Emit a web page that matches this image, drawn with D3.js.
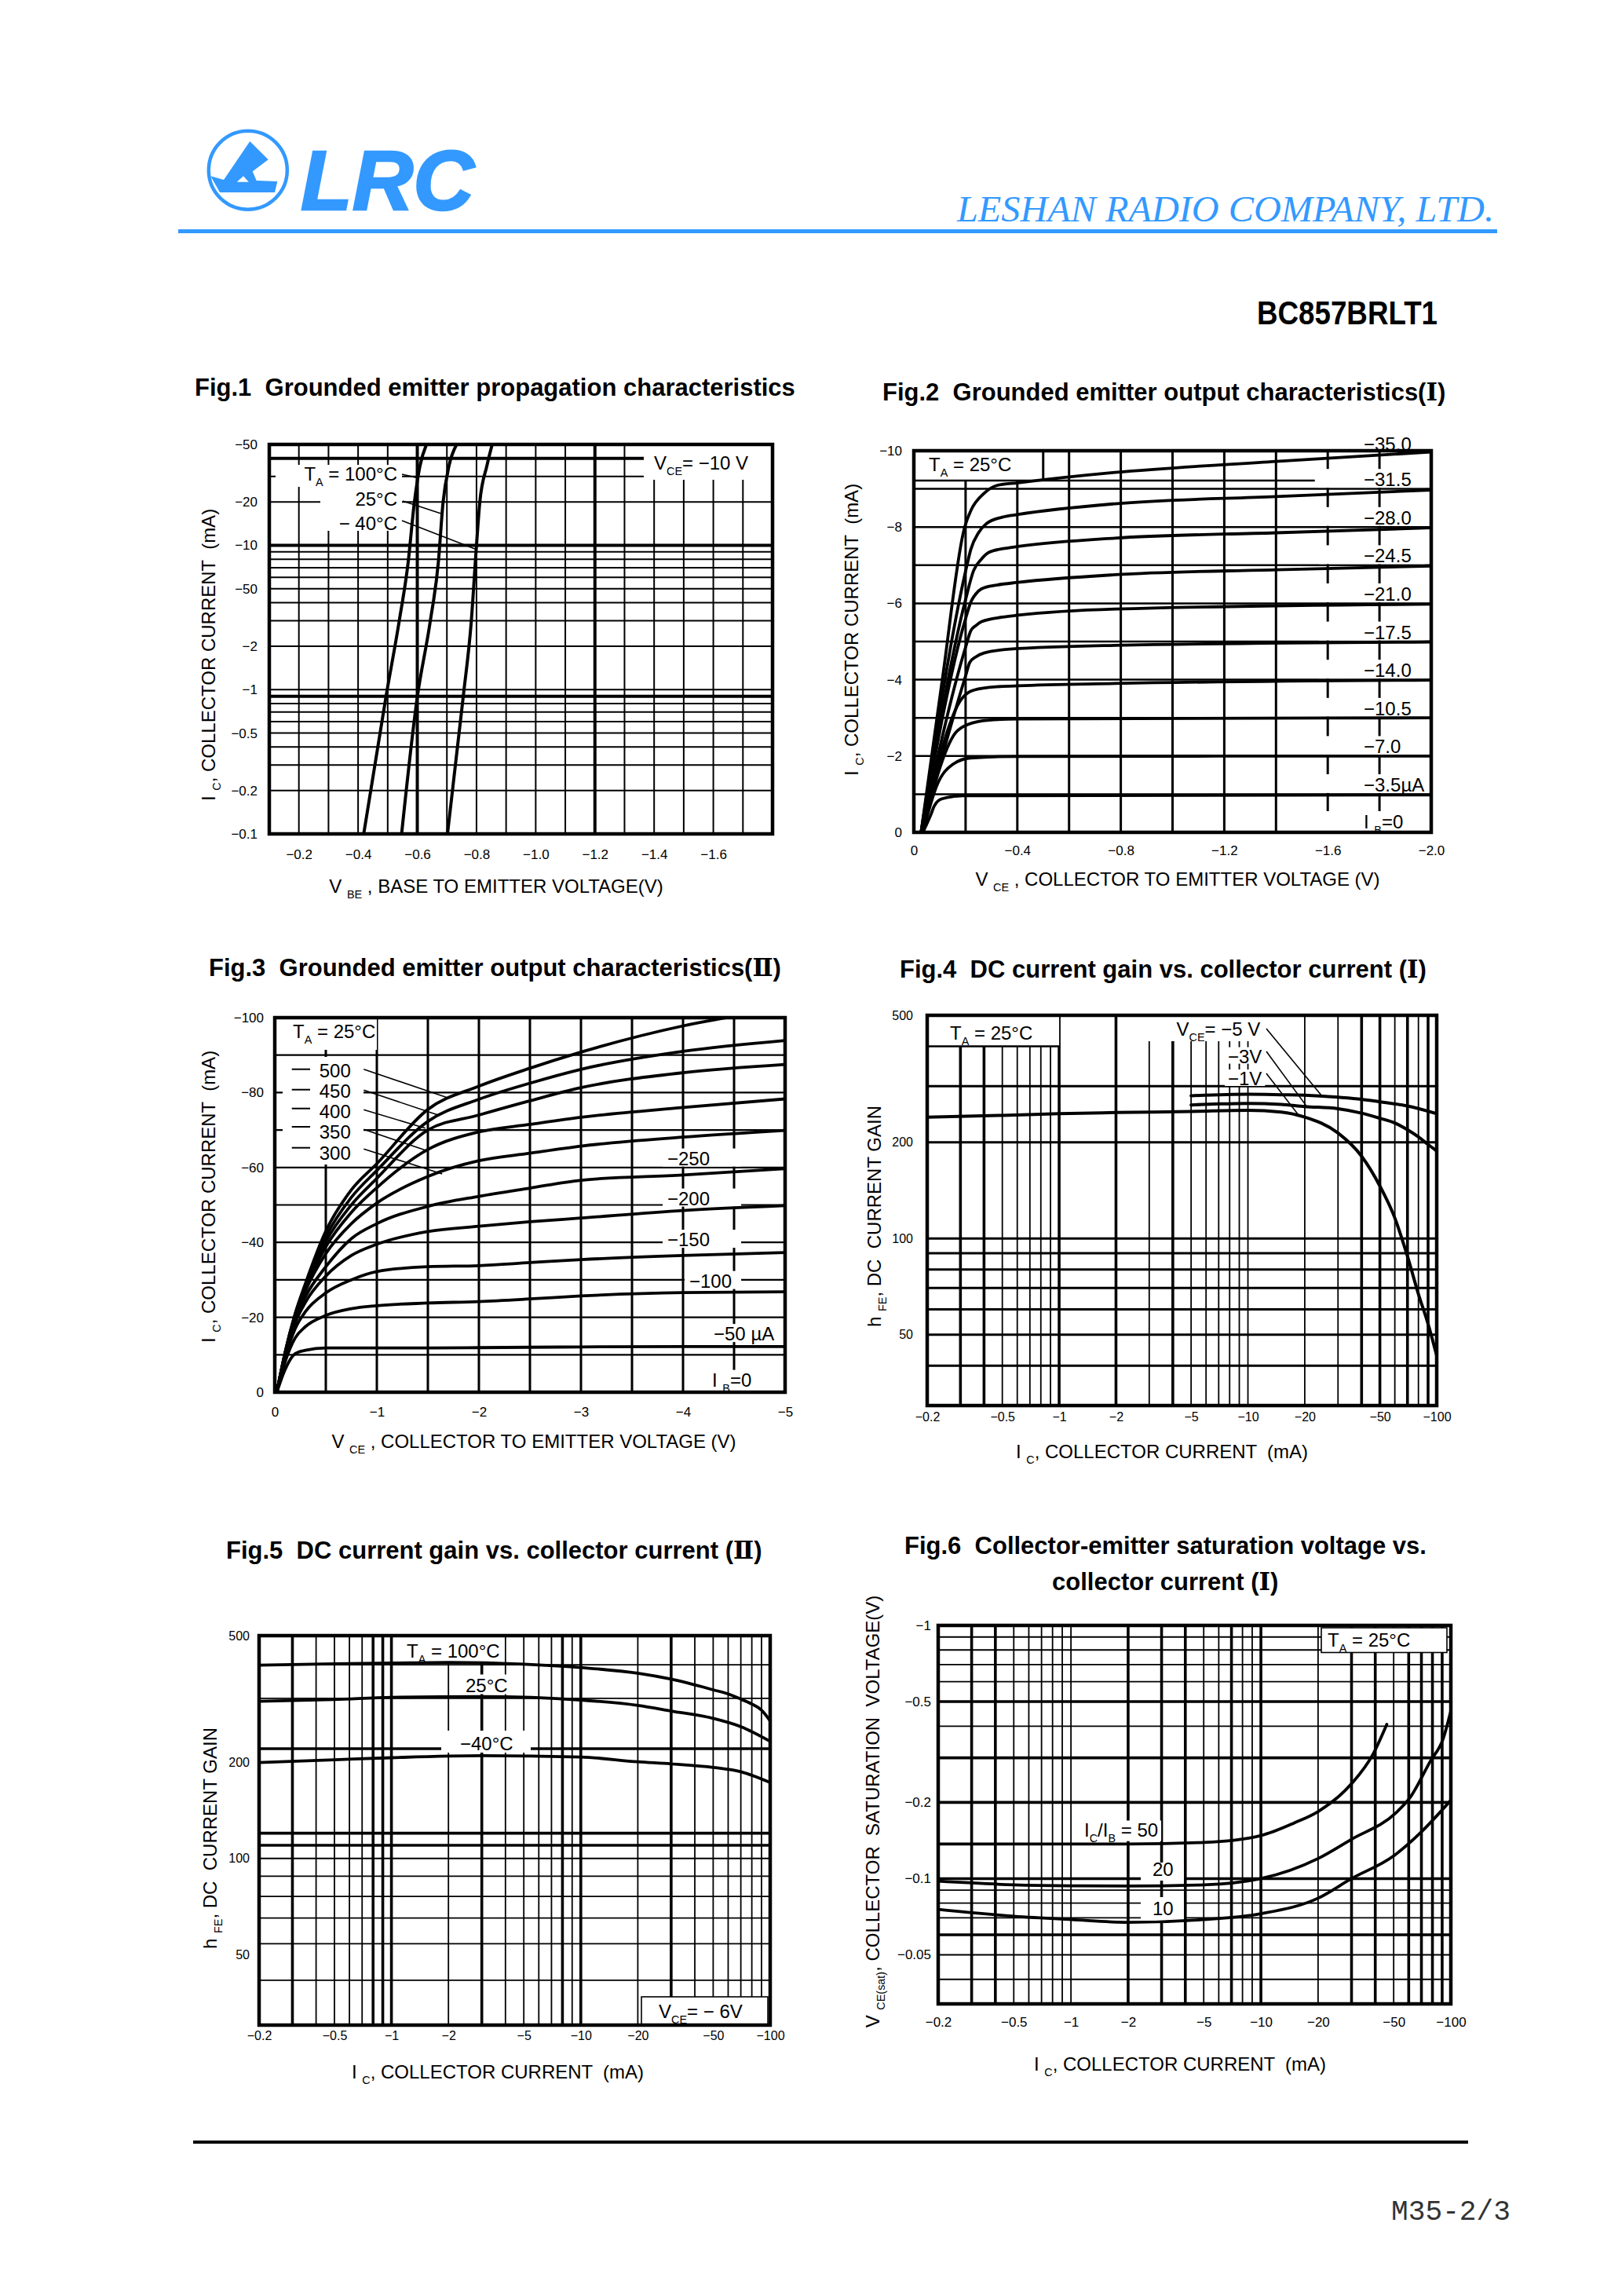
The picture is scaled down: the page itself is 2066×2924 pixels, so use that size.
<!DOCTYPE html>
<html>
<head>
<meta charset="utf-8">
<title>BC857BRLT1</title>
<script src="https://cdn.jsdelivr.net/npm/d3@7/dist/d3.min.js"></script>
<style>
  html, body { margin:0; padding:0; background:#fff; }
  svg { display:block; }
  text { white-space: pre; }
</style>
</head>
<body>
<svg id="page" width="2066" height="2924" viewBox="0 0 2066 2924"></svg>
<script>
// ======================= DATA =======================
// Fig.1  IC (mA, magnitude) vs VBE (V, magnitude)   [VBE, IC]
const fig1Temps = ["100°C", "25°C", "− 40°C"];
const fig1T100 = [[0.419,0.1],[0.494,0.888],[0.538,2.91],[0.569,7.59],[0.590,19.8],[0.609,35.5],[0.631,50]];
const fig1T25  = [[0.547,0.1],[0.600,0.888],[0.643,2.91],[0.671,7.59],[0.687,19.8],[0.707,35.5],[0.733,50]];
const fig1Tm40 = [[0.702,0.1],[0.755,0.888],[0.782,2.91],[0.799,9.36],[0.811,19.8],[0.835,35.5],[0.853,50]];
const fig1LeaderEnds = [[0.596,29.5],[0.680,16.6],[0.7995,9.36]];
const fig1XTicks = [0.2,0.4,0.6,0.8,1.0,1.2,1.4,1.6];
const fig1XTickLabels = ["−0.2","−0.4","−0.6","−0.8","−1.0","−1.2","−1.4","−1.6"];
const fig1YTicks = [50,20,10,5,2,1,0.5,0.2,0.1];
const fig1YTickLabels = ["−50","−20","−10","−50","−2","−1","−0.5","−0.2","−0.1"];

// Fig.2  IC (mA) vs VCE (V), IB steps   [VCE, IC]
const fig2Ib35   = [[0.028,0],[0.11,4.0],[0.195,7.96],[0.221,8.44],[0.271,8.88],[0.321,9.09],[0.403,9.16],[0.777,9.43],[1.4,9.72],[2.0,9.97]];
const fig2Ib31_5 = [[0.028,0],[0.205,6.99],[0.220,7.41],[0.25,7.85],[0.281,8.09],[0.342,8.26],[0.403,8.33],[0.777,8.61],[1.4,8.8],[2.0,8.97]];
const fig2Ib28   = [[0.028,0],[0.2,6.1],[0.231,6.86],[0.26,7.15],[0.291,7.34],[0.352,7.44],[0.403,7.49],[0.777,7.71],[1.4,7.85],[2.0,7.98]];
const fig2Ib24_5 = [[0.028,0],[0.2,5.6],[0.22,6.03],[0.24,6.25],[0.261,6.38],[0.321,6.48],[0.403,6.55],[0.777,6.75],[1.4,6.88],[2.0,6.98]];
const fig2Ib21   = [[0.028,0],[0.2,4.85],[0.22,5.28],[0.24,5.42],[0.261,5.52],[0.342,5.64],[0.403,5.69],[0.777,5.85],[2.0,5.98]];
const fig2Ib17_5 = [[0.028,0],[0.2,4.1],[0.216,4.45],[0.24,4.6],[0.271,4.7],[0.372,4.8],[0.777,4.9],[2.0,4.99]];
const fig2Ib14   = [[0.03,0],[0.185,3.5],[0.22,3.7],[0.291,3.8],[0.403,3.84],[0.777,3.9],[2.0,3.99]];
const fig2Ib10_5 = [[0.03,0],[0.16,2.6],[0.21,2.83],[0.291,2.94],[0.403,2.97],[2.0,3.0]];
const fig2Ib7    = [[0.035,0],[0.089,1.23],[0.15,1.78],[0.22,1.95],[0.4,1.99],[2.0,2.0]];
const fig2Ib3_5  = [[0.035,0],[0.065,0.45],[0.079,0.69],[0.109,0.88],[0.19,0.96],[2.0,0.98]];
const fig2IbLabels = ["−35.0","−31.5","−28.0","−24.5","−21.0","−17.5","−14.0","−10.5","−7.0","−3.5µA"];
const fig2LabelLevels = [10,9,8,7,6,5,4,3,2,1];
const fig2XTicks = [0,0.4,0.8,1.2,1.6,2.0];
const fig2XTickLabels = ["0","−0.4","−0.8","−1.2","−1.6","−2.0"];
const fig2YTicks = [0,2,4,6,8,10];
const fig2YTickLabels = ["0","−2","−4","−6","−8","−10"];

// Fig.3  IC (mA) vs VCE (V), IB = 50..500 µA
const fig3V      = [0.02,0.1,0.2,0.3,0.5,0.75,1.0,1.5,2.0,2.5,3.0,4.0,5.0];
const fig3Ib50   = [0,6,10.3,11.2,11.8,11.8,11.8,11.8,11.9,12.0,12.1,12.2,12.2];
const fig3Ib100  = [0,8,14.5,17.5,20.5,22.3,23.1,23.8,24.2,24.9,25.7,26.6,26.8];
const fig3Ib150  = [0,9,17,21.5,26.5,30,32.2,33.5,33.8,34.6,35.4,36.5,37.3];
const fig3Ib200  = [0,9.5,18.5,24,31,36.5,39.5,42.9,44.3,45.5,46.5,48.5,49.8];
const fig3Ib250  = [0,9.8,19.5,25.5,33.5,41,45,49.6,52.3,54.5,56.6,58,59.7];
const fig3Ib300  = [0,10,20,27,37,45,50.5,57.6,61.8,63.8,65.7,68.1,69.9];
const fig3Ib350  = [0,10.2,20.2,27.5,38.8,48,54.6,64.8,69.5,71.5,73.4,76,78.3];
const fig3Ib400  = [0,10.3,20.5,28,40.2,50,57.1,70.0,74,77.8,81.3,85.3,87.5];
const fig3Ib450  = [0,10.4,20.8,28.5,41.5,52,59.2,72.3,78.2,82.5,86.2,91,93.9];
const fig3Ib500  = [0,10.5,21,29,43,54,61,75.5,81.7,86.5,90.8,97.8,102.5];
const fig3Legend = ["500","450","400","350","300"];
const fig3LeaderEnds = [[1.705,78.5],[1.60,74.0],[1.475,70.5],[1.475,64.6],[1.64,58.3]];
const fig3XTicks = [0,1,2,3,4,5];
const fig3XTickLabels = ["0","−1","−2","−3","−4","−5"];
const fig3YTicks = [0,20,40,60,80,100];
const fig3YTickLabels = ["0","−20","−40","−60","−80","−100"];

// Fig.4  hFE vs IC (mA), TA = 25°C   [IC, hFE]
const fig4Vce = ["−5 V","−3V","−1V"];
const fig4VceM1 = [[0.2,240],[0.5,243],[1,246],[2,248],[5,250],[10,252],[15,249],[20,240],[30,214],[40,181],[50,146],[60,116],[70,88],[80,67],[90,54],[100,43]];
const fig4VceM3 = [[5,262],[7,264],[10,265],[15,263],[20,259],[30,255],[40,247],[50,238],[60,230],[70,219],[80,208],[90,197],[100,188]];
const fig4VceM5 = [[5,280],[10,283],[15,282],[20,281],[30,277],[40,273],[50,268],[70,260],[100,246]];
const fig4LeaderEnds = [[24.5,280.7],[20.6,258],[18.7,242]];
const logXTicks = [0.2,0.5,1,2,5,10,20,50,100];
const logXTickLabels = ["−0.2","−0.5","−1","−2","−5","−10","−20","−50","−100"];
const hfeYTicks = [500,200,100,50];
const hfeYTickLabels = ["500","200","100","50"];

// Fig.5  hFE vs IC (mA), VCE = -6 V
const fig5Temps = ["T_A = 100°C","25°C","−40°C"];
const fig5T100 = [[0.2,404],[0.5,408],[1,410],[2,412],[5,407],[10,397],[20,381],[30,365],[50,338],[60,328],[70,316],[80,305],[90,292],[100,270]];
const fig5T25  = [[0.2,311],[0.5,315],[1,320],[3,322],[10,314],[20,302],[30,290],[50,275],[70,259],[100,233]];
const fig5Tm40 = [[0.2,200],[0.5,204],[1,207],[3,210],[10,208],[20,201],[30,198],[50,193],[70,187],[100,173]];
const fig5HGrid = [41.5,54,65,76,88,100,110,120,221,318,405];

// Fig.6  VCE(sat) (V) vs IC (mA)
const fig6Ratios = ["50","20","10"];
const fig6R50 = [[0.2,0.137],[0.5,0.137],[1,0.137],[2,0.137],[5,0.139],[10,0.148],[15,0.166],[20,0.184],[30,0.237],[39,0.311],[46,0.407]];
const fig6R20 = [[0.2,0.0977],[0.5,0.0945],[1,0.0937],[2,0.0935],[5,0.0945],[10,0.100],[20,0.120],[30,0.143],[51,0.181],[61,0.209],[78,0.291],[91,0.356],[100,0.459]];
const fig6R10 = [[0.2,0.0756],[0.5,0.071],[1,0.0689],[2,0.0672],[5,0.0689],[10,0.0727],[20,0.0837],[30,0.100],[50,0.123],[70,0.153],[100,0.204]];
const fig6YTicks = [1,0.5,0.2,0.1,0.05];
const fig6YTickLabels = ["−1","−0.5","−0.2","−0.1","−0.05"];

// shared log-grid values
const logGridX = [0.3,0.4,0.5,0.6,0.7,0.8,0.9,1,2,3,4,5,6,7,8,9,10,20,30,40,50,60,70,80,90];

// ======================= DRAWING =======================
const BLUE = "#3399ff";
const FONT = '"Liberation Sans", Arial, Helvetica, sans-serif';
const svg = d3.select("#page");
svg.append("rect").attr("width", 2066).attr("height", 2924).attr("fill", "#fff");
const defs = svg.append("defs");

function rich(parent, x, y, parts, fs, o) {
  o = o || {};
  const t = parent.append("text").attr("x", x).attr("y", y)
    .attr("font-family", o.family || FONT).attr("font-size", fs)
    .attr("fill", o.fill || "#000");
  if (o.anchor) t.attr("text-anchor", o.anchor);
  if (o.weight) t.attr("font-weight", o.weight);
  if (o.fstyle) t.attr("font-style", o.fstyle);
  if (o.transform) t.attr("transform", o.transform);
  let inSub = false;
  parts.forEach(p => {
    const s = typeof p === "string" ? p : p[0];
    const sub = typeof p !== "string" && p[1] === "s";
    const ts = t.append("tspan").text(s);
    if (sub) {
      ts.attr("font-size", fs * 0.6);
      if (!inSub) ts.attr("dy", fs * 0.3);
    } else if (inSub) {
      ts.attr("dy", -fs * 0.3);
    }
    if (typeof p !== "string" && p[2]) ts.attr("font-family", p[2]);
    inSub = sub;
  });
  return t;
}

function near(v, arr) { return (arr || []).some(a => Math.abs(a - v) < 1e-9 * Math.max(1, Math.abs(a))); }

function panel(c) {
  const g = svg.append("g");
  const L = {};
  ["grid","mask","extra","curves","frame","text"].forEach(k => L[k] = g.append("g"));
  const x = c.x, y = c.y;
  const [x0, x1] = x.range(), [y0, y1] = y.range();
  L.grid.selectAll(null).data(c.xGrid).join("line")
    .attr("x1", d => x(d)).attr("x2", d => x(d)).attr("y1", y1).attr("y2", y0)
    .attr("stroke", "#000").attr("stroke-width", d => near(d, c.xThick) ? c.thickW : c.xW);
  L.grid.selectAll(null).data(c.yGrid).join("line")
    .attr("x1", x0).attr("x2", x1).attr("y1", d => y(d)).attr("y2", d => y(d))
    .attr("stroke", "#000").attr("stroke-width", d => near(d, c.yThick) ? c.thickW : c.yW);
  L.frame.append("rect").attr("x", x0).attr("y", y1).attr("width", x1 - x0).attr("height", y0 - y1)
    .attr("fill", "none").attr("stroke", "#000").attr("stroke-width", 4.5);
  const id = "clip" + c.id;
  defs.append("clipPath").attr("id", id).append("rect")
    .attr("x", x0).attr("y", y1).attr("width", x1 - x0).attr("height", y0 - y1);
  L.curves.attr("clip-path", "url(#" + id + ")");
  const ax = d3.axisBottom(x).tickValues(c.xTicks).tickFormat((d, i) => c.xTickLabels[i]).tickSize(0).tickPadding(c.xPad);
  const gx = L.text.append("g").attr("transform", "translate(0," + y0 + ")").call(ax);
  gx.select(".domain").remove();
  gx.attr("font-family", FONT).attr("font-size", c.tickFs);
  gx.selectAll("text").attr("fill", "#000");
  const ay = d3.axisLeft(y).tickValues(c.yTicks).tickFormat((d, i) => c.yTickLabels[i]).tickSize(0).tickPadding(c.yPad);
  const gy = L.text.append("g").attr("transform", "translate(" + x0 + ",0)").call(ay);
  gy.select(".domain").remove();
  gy.attr("font-family", FONT).attr("font-size", c.tickFs);
  gy.selectAll("text").attr("fill", "#000");
  L.x = x; L.y = y;
  return L;
}

function curve(L, data, w) {
  L.curves.append("path").datum(data)
    .attr("d", d3.line().x(d => L.x(d[0])).y(d => L.y(d[1])).curve(d3.curveMonotoneX))
    .attr("fill", "none").attr("stroke", "#000").attr("stroke-width", w)
    .attr("stroke-linejoin", "round").attr("stroke-linecap", "round");
}
function leader(L, sx, sy, end) {
  L.extra.append("line").attr("x1", sx).attr("y1", sy).attr("x2", L.x(end[0])).attr("y2", L.y(end[1]))
    .attr("stroke", "#000").attr("stroke-width", 1.6);
}
function maskRect(L, x, y, w, h) {
  L.mask.append("rect").attr("x", x).attr("y", y).attr("width", w).attr("height", h).attr("fill", "#fff");
}
function maskText(L, t, pl, pt, pr, pb) {
  const b = t.node().getBBox();
  maskRect(L, b.x - pl, b.y - pt, b.width + pl + pr, b.height + pt + pb);
}
function title(x, y, parts) { return rich(svg, x, y, parts, 31, { weight: "bold" }); }
function xTitle(cx, y, parts) { return rich(svg, cx, y, parts, 24, { anchor: "middle" }); }
function yTitle(cx, cy, parts) {
  return rich(svg, 0, 0, parts, 24, { anchor: "middle", transform: "translate(" + (cx + 8.6) + "," + cy + ") rotate(-90)" });
}
const ROMAN = "DejaVu Serif";

// ---------------- HEADER ----------------
svg.append("circle").attr("cx", 315.8).attr("cy", 216.7).attr("r", 50)
  .attr("fill", "none").attr("stroke", BLUE).attr("stroke-width", 4.5);
svg.append("path")
  .attr("d", "M268.3,224.3 L285,229 L318.3,180 L341.7,203.3 L321.7,218.3 L326.7,230 L353.3,231 L350,245 L280,245 Z M301.7,231.7 L310,224.3 L316.7,231.7 Z")
  .attr("fill", BLUE).attr("fill-rule", "evenodd");
svg.append("text").attr("x", 383).attr("y", 267).attr("font-family", FONT).attr("font-weight", "bold")
  .attr("font-style", "italic").attr("font-size", 107).attr("fill", BLUE).attr("stroke", BLUE).attr("stroke-width", 2.5)
  .attr("textLength", 221).attr("lengthAdjust", "spacingAndGlyphs").text("LRC");
svg.append("text").attr("x", 1219).attr("y", 282).attr("font-family", '"Liberation Serif", "Times New Roman", serif')
  .attr("font-style", "italic").attr("font-size", 47).attr("fill", BLUE)
  .attr("textLength", 684).attr("lengthAdjust", "spacingAndGlyphs").text("LESHAN RADIO COMPANY, LTD.");
svg.append("rect").attr("x", 227).attr("y", 292).attr("width", 1680).attr("height", 5).attr("fill", BLUE);
svg.append("text").attr("x", 1601).attr("y", 413).attr("font-family", FONT).attr("font-weight", "bold")
  .attr("font-size", 42).attr("textLength", 230).attr("lengthAdjust", "spacingAndGlyphs").text("BC857BRLT1");

// ---------------- FIG 1 ----------------
title(248, 504, ["Fig.1  Grounded emitter propagation characteristics"]);
const P1 = panel({
  id: 1,
  x: d3.scaleLinear().domain([0.1, 1.8]).range([343, 984]),
  y: d3.scaleLog().domain([0.1, 50]).range([1062, 566]),
  xGrid: d3.range(2, 18).map(i => i / 10), xThick: [0.6, 1.2],
  yGrid: [0.2,0.3,0.4,0.5,0.6,0.7,0.8,0.9,1,2,3,4,5,6,7,8,9,10,20,30,40], yThick: [0.9, 10, 40],
  xW: 2, yW: 2, thickW: 4,
  xTicks: fig1XTicks, xTickLabels: fig1XTickLabels, yTicks: fig1YTicks, yTickLabels: fig1YTickLabels,
  xPad: 20, yPad: 15, tickFs: 17
});
maskRect(P1, 351, 592, 161, 28);
maskRect(P1, 408, 620, 104, 30);
maskRect(P1, 413, 650, 99, 26);
maskRect(P1, 820, 568, 162, 43);
[fig1T100, fig1T25, fig1Tm40].forEach(s => curve(P1, s, 4));
rich(P1.text, 506, 612, ["T", ["A", "s"], " = " + fig1Temps[0]], 24, { anchor: "end" });
rich(P1.text, 506, 643.6, [fig1Temps[1]], 24, { anchor: "end" });
rich(P1.text, 506, 674.6, [fig1Temps[2]], 24, { anchor: "end" });
rich(P1.text, 833, 597.6, ["V", ["CE", "s"], "= −10 V"], 24);
leader(P1, 512, 604, fig1LeaderEnds[0]);
leader(P1, 513, 638, fig1LeaderEnds[1]);
leader(P1, 512, 663, fig1LeaderEnds[2]);
yTitle(265, 834, ["I ", ["C", "s"], ", COLLECTOR CURRENT  (mA)"]);
xTitle(632, 1136.6, ["V ", ["BE", "s"], " , BASE TO EMITTER VOLTAGE(V)"]);

// ---------------- FIG 2 ----------------
title(1124, 510, ["Fig.2  Grounded emitter output characteristics(", ["Ⅰ", "n", ROMAN], ")"]);
const P2 = panel({
  id: 2,
  x: d3.scaleLinear().domain([0, 2]).range([1164, 1823]),
  y: d3.scaleLinear().domain([0, 10]).range([1060, 574]),
  xGrid: d3.range(1, 10).map(i => i / 5), yGrid: d3.range(1, 10),
  xW: 3, yW: 2.5, thickW: 3,
  xTicks: fig2XTicks, xTickLabels: fig2XTickLabels, yTicks: fig2YTicks, yTickLabels: fig2YTickLabels,
  xPad: 17, yPad: 15, tickFs: 17
});
maskRect(P2, P2.x(0), P2.y(10), P2.x(0.5) - P2.x(0), P2.y(9.22) - P2.y(10));
P2.extra.append("line").attr("x1", P2.x(0)).attr("x2", P2.x(1.55)).attr("y1", P2.y(9.22)).attr("y2", P2.y(9.22))
  .attr("stroke", "#000").attr("stroke-width", 2.5);
P2.extra.append("line").attr("x1", P2.x(0.5)).attr("x2", P2.x(0.5)).attr("y1", P2.y(10)).attr("y2", P2.y(9.22))
  .attr("stroke", "#000").attr("stroke-width", 3);
[fig2Ib35, fig2Ib31_5, fig2Ib28, fig2Ib24_5, fig2Ib21, fig2Ib17_5, fig2Ib14, fig2Ib10_5, fig2Ib7, fig2Ib3_5]
  .forEach(s => curve(P2, s, 3.8));
rich(P2.text, 1183, 600, ["T", ["A", "s"], " = 25°C"], 24);
fig2IbLabels.forEach((lab, i) => {
  const lvl = fig2LabelLevels[i];
  const base = i === 0 ? P2.y(lvl) : P2.y(lvl) - 3.4;
  const t = rich(P2.text, 1737, base, [lab], 24);
  if (i > 0) {
    const b = t.node().getBBox();
    maskRect(P2, 1680, b.y, Math.max(b.x + b.width + 4, 1815) - 1680, P2.y(lvl) - 1.5 - b.y);
  }
});
{
  const t = rich(P2.text, 1737, P2.y(0) - 5, ["I ", ["B", "s"], "=0"], 24);
  const b = t.node().getBBox();
  maskRect(P2, 1680, b.y, 135, P2.y(0) - 2 - b.y);
}
yTitle(1084, 802, ["I ", ["C", "s"], ", COLLECTOR CURRENT  (mA)"]);
xTitle(1500, 1127.6, ["V ", ["CE", "s"], " , COLLECTOR TO EMITTER VOLTAGE (V)"]);

// ---------------- FIG 3 ----------------
title(266, 1243, ["Fig.3  Grounded emitter output characteristics(", ["Ⅱ", "n", ROMAN], ")"]);
const P3 = panel({
  id: 3,
  x: d3.scaleLinear().domain([0, 5]).range([350, 1000]),
  y: d3.scaleLinear().domain([0, 100]).range([1773, 1296]),
  xGrid: d3.range(1, 10).map(i => i / 2), yGrid: d3.range(10, 100, 10),
  xW: 3, yW: 2.2, thickW: 3,
  xTicks: fig3XTicks, xTickLabels: fig3XTickLabels, yTicks: fig3YTicks, yTickLabels: fig3YTickLabels,
  xPad: 19, yPad: 14, tickFs: 17
});
maskRect(P3, 352, 1298, 128, 39);
maskRect(P3, 360, 1346, 103, 137);
[fig3Ib50, fig3Ib100, fig3Ib150, fig3Ib200, fig3Ib250, fig3Ib300, fig3Ib350, fig3Ib400, fig3Ib450, fig3Ib500]
  .forEach(s => curve(P3, fig3V.map((v, i) => [v, s[i]]), 3.8));
rich(P3.text, 373, 1322, ["T", ["A", "s"], " = 25°C"], 24);
const fig3LegY = [1363.3, 1389.3, 1415, 1441.7, 1468.3];
const fig3DashY = [1361.7, 1387.7, 1411.7, 1435, 1461.7];
const fig3LeadY = [1361.7, 1388.3, 1413.3, 1438.3, 1463.3];
fig3Legend.forEach((lab, i) => {
  rich(P3.text, 406.7, fig3LegY[i] + 8.6, [lab], 24);
  P3.extra.append("line").attr("x1", 371.7).attr("x2", 395).attr("y1", fig3DashY[i]).attr("y2", fig3DashY[i])
    .attr("stroke", "#000").attr("stroke-width", 2);
  leader(P3, 463.3, fig3LeadY[i], fig3LeaderEnds[i]);
});
[["−250", 850, 1475, 40], ["−200", 850, 1526, 40], ["−150", 850, 1578.5, 40], ["−100", 878, 1631, 12]]
  .forEach(r => { const t = rich(P3.text, r[1], r[2] + 8.6, [r[0]], 24); maskText(P3, t, 6, -1, r[3], -3); });
{
  const t = rich(P3.text, 909, 1698.5 + 8.6, ["−50 µA"], 24); maskText(P3, t, 6, -1, 4, -3);
  const t2 = rich(P3.text, 907, 1757 + 8.6, ["I ", ["B", "s"], "=0"], 24); maskText(P3, t2, 6, -1, 6, -3);
}
yTitle(265, 1524, ["I ", ["C", "s"], ", COLLECTOR CURRENT  (mA)"]);
xTitle(680, 1843.6, ["V ", ["CE", "s"], " , COLLECTOR TO EMITTER VOLTAGE (V)"]);

// ---------------- FIG 4 ----------------
title(1146, 1245, ["Fig.4  DC current gain vs. collector current (", ["Ⅰ", "n", ROMAN], ")"]);
const P4 = panel({
  id: 4,
  x: d3.scaleLog().domain([0.2, 100]).range([1181, 1830]),
  y: d3.scaleLog().domain([30, 500]).range([1790, 1293]),
  xGrid: logGridX, xThick: [0.3, 0.4, 1, 2, 4, 40, 50, 70, 90],
  yGrid: [40, 50, 60, 70, 80, 90, 100, 200, 300],
  xW: 1.8, yW: 3, thickW: 3.6,
  xTicks: logXTicks, xTickLabels: logXTickLabels, yTicks: hfeYTicks, yTickLabels: hfeYTickLabels,
  xPad: 9, yPad: 18, tickFs: 16
});
maskRect(P4, P4.x(0.2), P4.y(500), P4.x(1) - P4.x(0.2), P4.y(400) - P4.y(500));
P4.extra.append("line").attr("x1", P4.x(0.2)).attr("x2", P4.x(1)).attr("y1", P4.y(400)).attr("y2", P4.y(400))
  .attr("stroke", "#000").attr("stroke-width", 2.5);
maskRect(P4, 1455, 1295, 157, 31);
[fig4VceM1, fig4VceM3, fig4VceM5].forEach(s => curve(P4, s, 4));
rich(P4.text, 1210, 1323.5, ["T", ["A", "s"], " = 25°C"], 24);
rich(P4.text, 1498.6, 1319, ["V", ["CE", "s"], "= " + fig4Vce[0]], 24);
{
  const t3 = rich(P4.text, 1564, 1353.6, [fig4Vce[1]], 24); maskText(P4, t3, 4, -2, 4, -4);
  const t1 = rich(P4.text, 1564, 1382, [fig4Vce[2]], 24); maskText(P4, t1, 4, -2, 4, -4);
}
leader(P4, 1613, 1310, fig4LeaderEnds[0]);
leader(P4, 1613, 1339, fig4LeaderEnds[1]);
leader(P4, 1613, 1367, fig4LeaderEnds[2]);
yTitle(1113, 1549, ["h ", ["FE", "s"], ", DC  CURRENT GAIN"]);
xTitle(1480, 1856.6, ["I ", ["C", "s"], ", COLLECTOR CURRENT  (mA)"]);

// ---------------- FIG 5 ----------------
title(288, 1985, ["Fig.5  DC current gain vs. collector current (", ["Ⅱ", "n", ROMAN], ")"]);
const P5 = panel({
  id: 5,
  x: d3.scaleLog().domain([0.2, 100]).range([330, 981]),
  y: d3.scaleLog().domain([30, 500]).range([2579, 2083]),
  xGrid: logGridX, xThick: [0.3, 0.8, 0.9, 1, 3, 8, 10, 30],
  yGrid: fig5HGrid, yThick: [110, 120, 221],
  xW: 1.8, yW: 1.8, thickW: 3.6,
  xTicks: logXTicks, xTickLabels: logXTickLabels, yTicks: hfeYTicks, yTickLabels: hfeYTickLabels,
  xPad: 8, yPad: 12, tickFs: 16
});
[fig5T100, fig5T25, fig5Tm40].forEach(s => curve(P5, s, 3.8));
{
  const a = rich(P5.text, 518, 2110.5, ["T", ["A", "s"], " = 100°C"], 24); maskText(P5, a, 6, 12, 6, -2);
  const b = rich(P5.text, 593, 2154.5, [fig5Temps[1]], 24); maskText(P5, b, 6, 0, 6, -2);
  rich(P5.text, 586, 2228.5, [fig5Temps[2]], 24);
  maskRect(P5, 562, 2204, 114, 28);
  maskRect(P5, P5.x(20.9), P5.y(36.8), P5.x(100) - P5.x(20.9), P5.y(30) - P5.y(36.8));
  P5.extra.append("rect").attr("x", P5.x(20.9)).attr("y", P5.y(36.8))
    .attr("width", P5.x(100) - P5.x(20.9) - 3).attr("height", P5.y(30) - P5.y(36.8))
    .attr("fill", "none").attr("stroke", "#000").attr("stroke-width", 1.6);
  rich(P5.text, 839, 2570, ["V", ["CE", "s"], "= − 6V"], 24);
}
yTitle(267, 2341, ["h ", ["FE", "s"], ", DC  CURRENT GAIN"]);
xTitle(634, 2646.6, ["I ", ["C", "s"], ", COLLECTOR CURRENT  (mA)"]);

// ---------------- FIG 6 ----------------
title(1152, 1979, ["Fig.6  Collector-emitter saturation voltage vs."]);
title(1340, 2025, ["collector current (", ["Ⅰ", "n", ROMAN], ")"]);
const P6 = panel({
  id: 6,
  x: d3.scaleLog().domain([0.2, 100]).range([1195, 1848]),
  y: d3.scaleLog().domain([0.032, 1]).range([2552, 2070]),
  xGrid: logGridX, xThick: [0.3, 0.4, 2, 3, 4, 7, 10, 30, 40, 60, 70, 80, 90],
  yGrid: [0.04,0.05,0.06,0.07,0.08,0.09,0.1,0.2,0.3,0.4,0.5,0.6,0.7,0.8,0.9], yThick: [0.06, 0.1, 0.2, 0.3, 0.5],
  xW: 1.8, yW: 1.8, thickW: 3.6,
  xTicks: logXTicks, xTickLabels: logXTickLabels, yTicks: fig6YTicks, yTickLabels: fig6YTickLabels,
  xPad: 17, yPad: 9, tickFs: 17
});
maskRect(P6, 1683, 2073, 160, 31.5);
P6.extra.append("rect").attr("x", 1683).attr("y", 2073).attr("width", 160).attr("height", 31.5)
  .attr("fill", "none").attr("stroke", "#000").attr("stroke-width", 1.6);
rich(P6.text, 1691, 2097, ["T", ["A", "s"], " = 25°C"], 24);
{
  const t = rich(P6.text, 1381, 2338.5, ["I", ["C", "s"], "/I", ["B", "s"], " = " + fig6Ratios[0]], 24);
  maskText(P6, t, 4, -2, 4, -4);
  rich(P6.text, 1468, 2388.5, [fig6Ratios[1]], 24);
  maskRect(P6, 1453, 2372, 55, 23);
  rich(P6.text, 1468, 2438.5, [fig6Ratios[2]], 24);
  maskRect(P6, 1453, 2416, 55, 32);
}
[fig6R50, fig6R20, fig6R10].forEach(s => curve(P6, s, 3.8));
yTitle(1111, 2307, ["V ", ["CE(sat)", "s"], ", COLLECTOR  SATURATION  VOLTAGE(V)"]);
xTitle(1503, 2637, ["I ", ["C", "s"], ", COLLECTOR CURRENT  (mA)"]);

// ---------------- FOOTER ----------------
svg.append("rect").attr("x", 246).attr("y", 2726).attr("width", 1624).attr("height", 4).attr("fill", "#000");
svg.append("text").attr("x", 1772).attr("y", 2827).attr("font-family", '"Liberation Mono", "DejaVu Sans Mono", monospace')
  .attr("font-size", 36).attr("fill", "#333").attr("textLength", 152).attr("lengthAdjust", "spacingAndGlyphs").text("M35-2/3");
</script>
</body>
</html>
